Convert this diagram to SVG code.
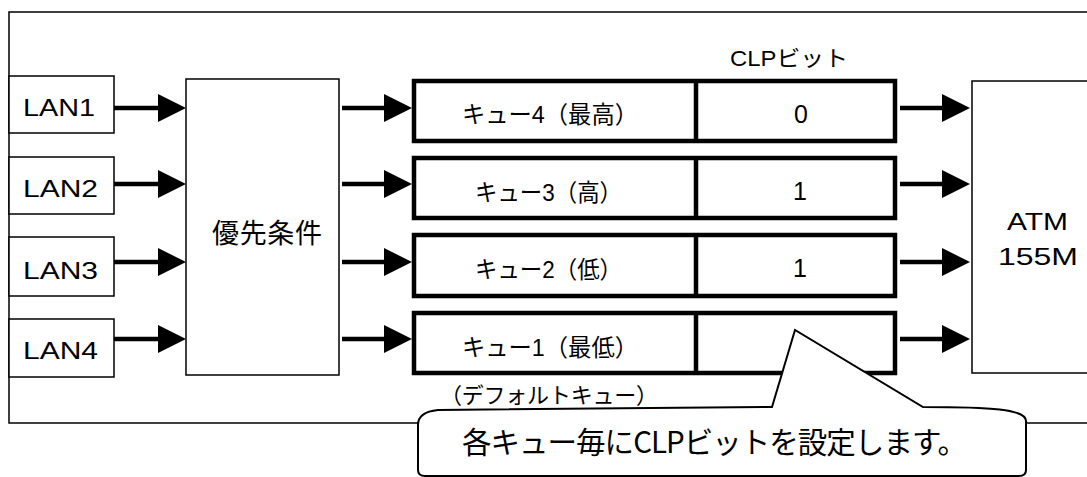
<svg xmlns="http://www.w3.org/2000/svg" width="1087" height="477" viewBox="0 0 1087 477">
<defs>
<style>
.thin{fill:#fff;stroke:#000;stroke-width:1.5}
.q{fill:#fff;stroke:#000;stroke-width:4.5}
.div{stroke:#000;stroke-width:4.5}
.arr{stroke:#000;stroke-width:4.5;fill:none;marker-end:url(#ah)}
.t{font-family:"Liberation Sans","Noto Sans CJK JP",sans-serif;fill:#000}
.j{font-family:"Noto Sans CJK JP","Liberation Sans",sans-serif;fill:#000}
</style>
<marker id="ah" markerUnits="userSpaceOnUse" markerWidth="28" markerHeight="28" refX="14" refY="14" orient="auto" viewBox="0 0 28 28">
<path d="M0,0 L28,14 L0,28 Z" fill="#000"/>
</marker>
</defs>
<rect id="frame" x="9" y="12" width="1100" height="411" fill="#fff" stroke="#000" stroke-width="1.5"/>
<g id="lan1"><rect class="thin" x="9" y="76" width="105" height="57"/><text class="t" x="23" y="116" font-size="24" textLength="72" lengthAdjust="spacingAndGlyphs">LAN1</text></g>
<g id="lan2"><rect class="thin" x="9" y="157" width="105" height="57"/><text class="t" x="23" y="197" font-size="24" textLength="75" lengthAdjust="spacingAndGlyphs">LAN2</text></g>
<g id="lan3"><rect class="thin" x="9" y="237" width="105" height="59"/><text class="t" x="23" y="279" font-size="24" textLength="75" lengthAdjust="spacingAndGlyphs">LAN3</text></g>
<g id="lan4"><rect class="thin" x="9" y="319" width="105" height="58"/><text class="t" x="23" y="359" font-size="24" textLength="75" lengthAdjust="spacingAndGlyphs">LAN4</text></g>
<g id="priority"><rect class="thin" x="186" y="79" width="153" height="296"/><text class="j" x="212" y="243" font-size="27" textLength="110">優先条件</text></g>
<text id="clp-label" class="t" x="730" y="66" font-size="22" textLength="118" lengthAdjust="spacingAndGlyphs">CLPビット</text>
<g id="queue4"><rect class="q" x="414" y="81" width="481" height="60"/><line class="div" x1="696" y1="81" x2="696" y2="141"/><text class="t" x="462" y="123" font-size="24" textLength="176" lengthAdjust="spacingAndGlyphs">キュー4（最高）</text><text class="t" x="801" y="123" font-size="25" text-anchor="middle">0</text></g>
<g id="queue3"><rect class="q" x="414" y="158" width="481" height="60"/><line class="div" x1="696" y1="158" x2="696" y2="218"/><text class="t" x="475" y="201" font-size="24" textLength="147" lengthAdjust="spacingAndGlyphs">キュー3（高）</text><text class="t" x="800" y="200" font-size="25" text-anchor="middle">1</text></g>
<g id="queue2"><rect class="q" x="414" y="235" width="481" height="61"/><line class="div" x1="696" y1="235" x2="696" y2="296"/><text class="t" x="475" y="278" font-size="24" textLength="147" lengthAdjust="spacingAndGlyphs">キュー2（低）</text><text class="t" x="800" y="277" font-size="25" text-anchor="middle">1</text></g>
<g id="queue1"><rect class="q" x="414" y="313" width="481" height="60"/><line class="div" x1="696" y1="313" x2="696" y2="373"/><text class="t" x="462" y="356" font-size="24" textLength="176" lengthAdjust="spacingAndGlyphs">キュー1（最低）</text></g>
<g id="atm"><rect class="thin" x="972" y="81" width="130" height="292"/><text class="t" x="1007" y="230" font-size="24" textLength="61" lengthAdjust="spacingAndGlyphs">ATM</text><text class="t" x="998" y="265" font-size="24" textLength="80" lengthAdjust="spacingAndGlyphs">155M</text></g>
<g id="connectors">
<line class="arr" x1="114" y1="108" x2="172" y2="108"/>
<line class="arr" x1="114" y1="184" x2="172" y2="184"/>
<line class="arr" x1="114" y1="262" x2="172" y2="262"/>
<line class="arr" x1="114" y1="339" x2="172" y2="339"/>
<line class="arr" x1="342" y1="108" x2="398" y2="108"/>
<line class="arr" x1="342" y1="184" x2="398" y2="184"/>
<line class="arr" x1="342" y1="262" x2="398" y2="262"/>
<line class="arr" x1="342" y1="339" x2="398" y2="339"/>
<line class="arr" x1="900" y1="108" x2="956" y2="108"/>
<line class="arr" x1="900" y1="184" x2="956" y2="184"/>
<line class="arr" x1="900" y1="262" x2="956" y2="262"/>
<line class="arr" x1="900" y1="339" x2="956" y2="339"/>
</g>
<g id="callout">
<path d="M418,425 Q418,412 438,410 L772,407 L795,330 L923,407 C990,407 1026,409 1026,421 L1026,470 Q1026,476 1019,476 L425,476 Q418,476 418,470 Z" fill="#fff" stroke="#000" stroke-width="2"/>
<text class="j" x="462" y="453" font-size="29.5" textLength="505">各キュー毎にCLPビットを設定します。</text>
</g>
<text id="default-label" class="j" x="440" y="403" font-size="22" textLength="218">（デフォルトキュー）</text>
</svg>
